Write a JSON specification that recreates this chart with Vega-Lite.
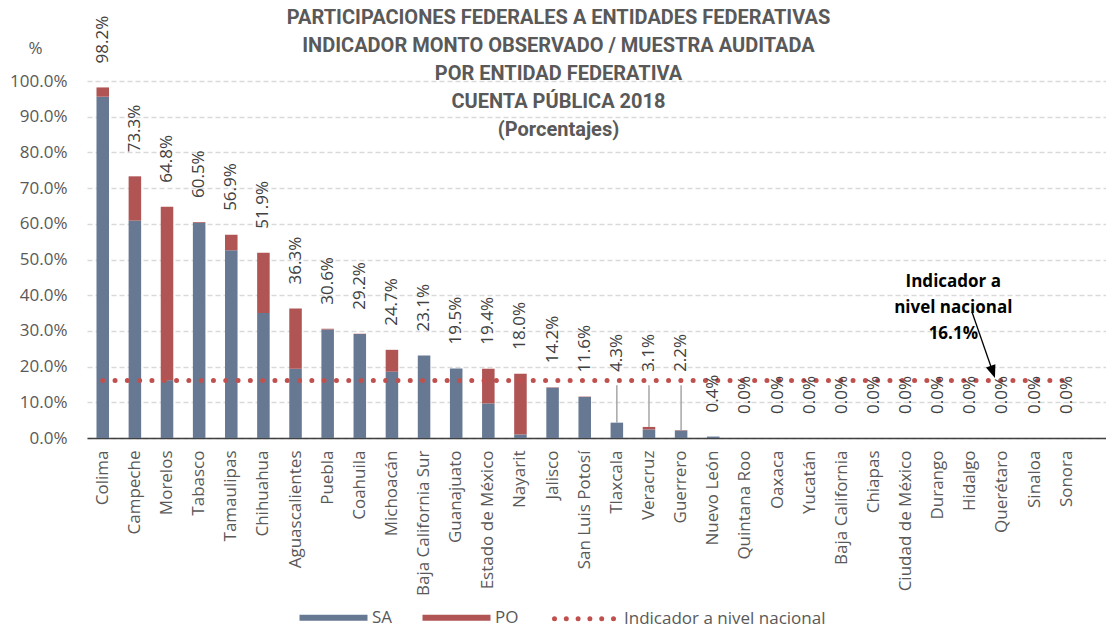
{
  "$schema": "https://vega.github.io/schema/vega-lite/v6.json",
  "width": 1019,
  "height": 357,
  "autosize": {"type": "none"},
  "padding": {"left": 87, "top": 81, "right": 0, "bottom": 192},
  "background": "white",
  "config": {"view": {"stroke": null}, "font": "Open Sans"},
  "title": {
    "text": ["PARTICIPACIONES FEDERALES A ENTIDADES FEDERATIVAS", "INDICADOR MONTO OBSERVADO / MUESTRA AUDITADA", "POR ENTIDAD FEDERATIVA", "CUENTA PÚBLICA 2018", "(Porcentajes)"],
    "anchor": "middle",
    "frame": "group",
    "dx": -38,
    "offset": -124,
    "font": "Roboto",
    "fontSize": 20,
    "fontWeight": "bold",
    "color": "#595959",
    "lineHeight": 28
  },
  "data": {"values": [
    {"entidad": "Colima", "SA": 0.956, "PO": 0.026, "total": 0.982},
    {"entidad": "Campeche", "SA": 0.609, "PO": 0.124, "total": 0.733},
    {"entidad": "Morelos", "SA": 0.162, "PO": 0.486, "total": 0.648},
    {"entidad": "Tabasco", "SA": 0.603, "PO": 0.002, "total": 0.605},
    {"entidad": "Tamaulipas", "SA": 0.526, "PO": 0.043, "total": 0.569},
    {"entidad": "Chihuahua", "SA": 0.350, "PO": 0.169, "total": 0.519},
    {"entidad": "Aguascalientes", "SA": 0.194, "PO": 0.169, "total": 0.363},
    {"entidad": "Puebla", "SA": 0.304, "PO": 0.002, "total": 0.306},
    {"entidad": "Coahuila", "SA": 0.291, "PO": 0.001, "total": 0.292},
    {"entidad": "Michoacán", "SA": 0.186, "PO": 0.061, "total": 0.247},
    {"entidad": "Baja California Sur", "SA": 0.231, "PO": 0.0, "total": 0.231},
    {"entidad": "Guanajuato", "SA": 0.195, "PO": 0.0, "total": 0.195},
    {"entidad": "Estado de México", "SA": 0.097, "PO": 0.097, "total": 0.194},
    {"entidad": "Nayarit", "SA": 0.010, "PO": 0.170, "total": 0.180},
    {"entidad": "Jalisco", "SA": 0.141, "PO": 0.001, "total": 0.142},
    {"entidad": "San Luis Potosí", "SA": 0.115, "PO": 0.001, "total": 0.116},
    {"entidad": "Tlaxcala", "SA": 0.043, "PO": 0.0, "total": 0.043},
    {"entidad": "Veracruz", "SA": 0.024, "PO": 0.007, "total": 0.031},
    {"entidad": "Guerrero", "SA": 0.021, "PO": 0.001, "total": 0.022},
    {"entidad": "Nuevo León", "SA": 0.004, "PO": 0.0, "total": 0.004},
    {"entidad": "Quintana Roo", "SA": 0.0, "PO": 0.0, "total": 0.0},
    {"entidad": "Oaxaca", "SA": 0.0, "PO": 0.0, "total": 0.0},
    {"entidad": "Yucatán", "SA": 0.0, "PO": 0.0, "total": 0.0},
    {"entidad": "Baja California", "SA": 0.0, "PO": 0.0, "total": 0.0},
    {"entidad": "Chiapas", "SA": 0.0, "PO": 0.0, "total": 0.0},
    {"entidad": "Ciudad de México", "SA": 0.0, "PO": 0.0, "total": 0.0},
    {"entidad": "Durango", "SA": 0.0, "PO": 0.0, "total": 0.0},
    {"entidad": "Hidalgo", "SA": 0.0, "PO": 0.0, "total": 0.0},
    {"entidad": "Querétaro", "SA": 0.0, "PO": 0.0, "total": 0.0},
    {"entidad": "Sinaloa", "SA": 0.0, "PO": 0.0, "total": 0.0},
    {"entidad": "Sonora", "SA": 0.0, "PO": 0.0, "total": 0.0}
  ]},
  "layer": [
    {
      "transform": [{"fold": ["SA", "PO"], "as": ["serie", "valor"]}],
      "mark": {"type": "bar"},
      "encoding": {
        "x": {
          "field": "entidad", "type": "nominal", "sort": null,
          "scale": {"paddingInner": 0.61, "paddingOuter": 0.662, "align": 0.223},
          "axis": {
            "title": null, "labelAngle": -90, "labelFontSize": 17, "labelColor": "#595959",
            "labelPadding": 12, "ticks": false, "domainColor": "#404040", "domainWidth": 1.5,
            "labelLimit": 300, "labelOverlap": false
          }
        },
        "y": {
          "field": "valor", "type": "quantitative", "stack": "zero",
          "scale": {"domain": [0, 1], "nice": false},
          "axis": {
            "values": [0, 0.1, 0.2, 0.3, 0.4, 0.5, 0.6, 0.7, 0.8, 0.9, 1.0],
            "tickCount": 20, "labelOverlap": false,
            "format": ".1%", "grid": true, "gridDash": [5, 3], "gridColor": "#D9D9D9", "gridWidth": 1.3,
            "domain": false, "ticks": false, "labelPadding": 20, "labelFontSize": 17, "labelColor": "#595959",
            "title": "%", "titleAngle": 0, "titleX": -52, "titleY": -33, "titleAlign": "center",
            "titleBaseline": "middle", "titleFontSize": 17, "titleFontWeight": "normal", "titleColor": "#595959"
          }
        },
        "color": {
          "field": "serie", "type": "nominal",
          "scale": {"domain": ["SA", "PO", "Indicador a nivel nacional"], "range": ["#677992", "#B05454", "#C0504D"]},
          "legend": {
            "orient": "none", "legendX": 210, "legendY": 528, "direction": "horizontal", "title": null,
            "symbolType": "stroke", "symbolSize": 4624, "labelFontSize": 17, "labelColor": "#595959",
            "labelFont": "Open Sans", "columnPadding": 17, "labelOffset": 30, "symbolOffset": 28, "labelLimit": 400,
            "encode": {
              "symbols": {"update": {
                "strokeWidth": {"signal": "datum.value === 'Indicador a nivel nacional' ? 5 : 6"},
                "strokeDash": {"signal": "datum.value === 'Indicador a nivel nacional' ? [0, 11.8] : [1, 0]"},
                "strokeDashOffset": {"signal": "datum.value === 'Indicador a nivel nacional' ? 3.8 : 0"},
                "strokeCap": {"signal": "datum.value === 'Indicador a nivel nacional' ? 'round' : 'butt'"},
                "stroke": {"signal": "datum.value === 'SA' ? '#677992' : datum.value === 'PO' ? '#B05454' : '#C0504D'"},
                "fill": {"value": "transparent"},
                "opacity": {"value": 1}
              }},
              "labels": {"update": {
                "dx": {"signal": "datum.value === 'Indicador a nivel nacional' ? 5 : 0"}
              }}
            }
          }
        },
        "order": {"field": "serie", "sort": "descending"}
      }
    },
    {
      "mark": {"type": "line", "strokeDash": [0, 12.3], "strokeCap": "round", "strokeWidth": 5, "color": "#C0504D"},
      "encoding": {
        "x": {"field": "entidad", "type": "nominal", "sort": null},
        "y": {"datum": 0.161},
        "color": {"datum": "Indicador a nivel nacional"}
      }
    },
    {
      "transform": [{"filter": "datum.total < 0.01 || datum.total >= 0.05"}],
      "mark": {"type": "text", "angle": 270, "align": "left", "baseline": "middle", "dx": 24, "fontSize": 17, "color": "#404040"},
      "encoding": {
        "x": {"field": "entidad", "type": "nominal", "sort": null},
        "y": {"field": "total", "type": "quantitative"},
        "text": {"field": "total", "type": "quantitative", "format": ".1%"}
      }
    },
    {
      "transform": [{"filter": "datum.total >= 0.01 && datum.total < 0.05"}],
      "mark": {"type": "text", "angle": 270, "align": "left", "baseline": "middle", "dx": 24, "fontSize": 17, "color": "#404040"},
      "encoding": {
        "x": {"field": "entidad", "type": "nominal", "sort": null},
        "y": {"datum": 0.118},
        "text": {"field": "total", "type": "quantitative", "format": ".1%"}
      }
    },
    {
      "transform": [{"filter": "datum.total >= 0.01 && datum.total < 0.05"}],
      "mark": {"type": "rule", "color": "#A6A6A6", "strokeWidth": 1.5},
      "encoding": {
        "x": {"field": "entidad", "type": "nominal", "sort": null},
        "y": {"field": "total", "type": "quantitative"},
        "y2": {"datum": 0.148}
      }
    },
    {
      "data": {"values": [{"nota": "Indicador a nivel nacional 16.1%"}]},
      "mark": {"type": "text", "text": ["Indicador a", "nivel nacional", "16.1%"], "fontSize": 17, "fontWeight": "bold", "color": "#000000", "lineHeight": 26, "align": "center", "baseline": "middle", "dx": -17},
      "encoding": {
        "x": {"datum": "Hidalgo"},
        "y": {"datum": 0.437}
      }
    },
    {
      "data": {"values": [{"nota": "flecha"}]},
      "mark": {"type": "rule", "color": "#000000", "strokeWidth": 1.3, "xOffset": 1.7, "x2Offset": -9.6},
      "encoding": {
        "x": {"datum": "Hidalgo"},
        "x2": {"datum": "Querétaro"},
        "y": {"datum": 0.353},
        "y2": {"datum": 0.185}
      }
    },
    {
      "data": {"values": [{"nota": "punta"}]},
      "mark": {"type": "point", "shape": "M0,1L-0.77,-1L0.77,-1Z", "size": 169, "filled": true, "color": "#000000", "opacity": 1, "strokeWidth": 0, "angle": -19.3, "xOffset": -9.6},
      "encoding": {
        "x": {"datum": "Querétaro"},
        "y": {"datum": 0.185}
      }
    }
  ]
}
